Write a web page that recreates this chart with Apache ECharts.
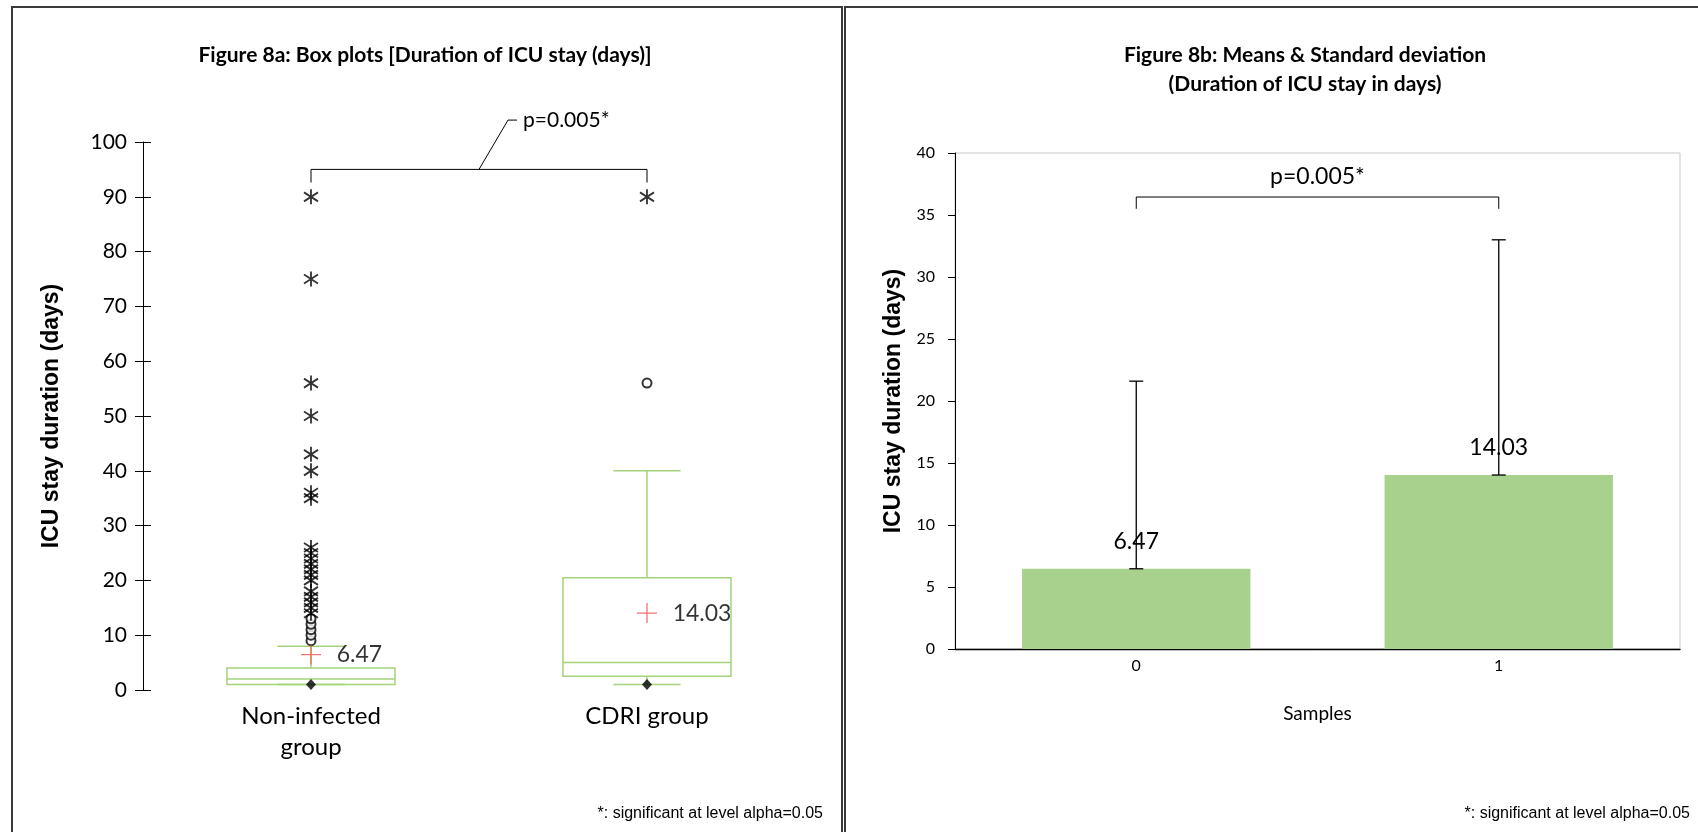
<!DOCTYPE html>
<html><head><meta charset="utf-8">
<script src="https://cdn.jsdelivr.net/npm/echarts@6/dist/echarts.min.js"></script>
<style>html,body{margin:0;padding:0;background:#fff}#c{width:1698px;height:832px}</style>
</head><body><div id="c"></div>
<script>
// ---------- data ----------
const groups = ['Non-infected\ngroup', 'CDRI group'];
const boxMin = [1, 1];
const boxQ1 = [1, 2.5];
const boxMedian = [2, 5];
const boxQ3 = [4, 20.5];
const boxMax = [8, 40];
const means = [6.47, 14.03];
const sds = [15.13, 18.97];
const mildOutliers = [[0, 9], [0, 10], [0, 11], [0, 12], [0, 13], [1, 56]];
const extremeNonInfected = [14, 15, 16, 17, 18, 20, 21, 22, 23, 24, 25, 26, 35, 36, 40, 43, 50, 56, 75, 90];
const extremeCdri = [90];
const leftBracket = [95, 92.6, 104];   // bracket level, tip end, p label level
const rightBracket = [36.45, 35.5, 38.1];
const pLabel = 'p=0.005*';
const sampleCategories = ['0', '1'];
const footnote = '*: significant at level alpha=0.05';

// ---------- styling ----------
const CAL = 'Lato, "Open Sans", sans-serif';
const ARI = '"Liberation Sans", Arial, sans-serif';
const GREEN_LINE = '#a3d47c';
const chart = echarts.init(document.getElementById('c'), null, {renderer: 'canvas'});

const boxData = groups.map((g, i) => [i, boxMin[i], boxQ1[i], boxMedian[i], boxQ3[i], boxMax[i]]);
const extremeData = extremeNonInfected.map(v => [0, v]).concat(extremeCdri.map(v => [1, v]));
const minData = boxMin.map((v, i) => [i, v]);
const meanData = means.map((v, i) => [i, v]);
const errData = means.map((v, i) => [i, v, sds[i]]);

const star = 'path://M0,-1L0,1M-0.8,-0.6L0.8,0.6M-0.8,0.6L0.8,-0.6';
const plus = 'path://M0,-1L0,1M-1,0L1,0';

function renderBox(params, api) {
  const i = api.value(0);
  const cx = api.coord([i, 0])[0];
  const band = api.size([1, 0])[0];
  const bw = band * 0.5, cw = bw * 0.4;
  const y = k => api.coord([i, api.value(k)])[1];
  const yMin = y(1), yQ1 = y(2), yMed = y(3), yQ3 = y(4), yMax = y(5);
  const st = {stroke: GREEN_LINE, fill: null, lineWidth: 1.5};
  const L = (x1, y1, x2, y2) => ({type: 'line', shape: {x1, y1, x2, y2}, style: st});
  return {type: 'group', children: [
    {type: 'rect', shape: {x: cx - bw / 2, y: yQ3, width: bw, height: yQ1 - yQ3}, style: st},
    L(cx - bw / 2, yMed, cx + bw / 2, yMed),
    L(cx, yQ3, cx, yMax),
    L(cx, yQ1, cx, yMin),
    L(cx - cw / 2, yMax, cx + cw / 2, yMax),
    L(cx - cw / 2, yMin, cx + cw / 2, yMin)
  ]};
}

function makeBracket(levels, leader, fs) {
  return function (params, api) {
    const a = api.coord([0, levels[0]]), b = api.coord([1, levels[0]]);
    const tip = api.coord([0, levels[1]])[1];
    const lab = api.coord([0, levels[2]])[1];
    const st = {stroke: '#000', fill: null, lineWidth: 1};
    const ch = [
      {type: 'polyline', shape: {points: [[a[0], tip], [a[0], a[1]], [b[0], b[1]], [b[0], tip]]}, style: st}
    ];
    const mid = (a[0] + b[0]) / 2;
    if (leader) {
      ch.push({type: 'polyline', shape: {points: [[mid, a[1]], [mid + 29, lab], [mid + 38, lab]]}, style: st});
      ch.push({type: 'text', x: mid + 44, y: lab, style: {text: pLabel, fill: '#000', font: fs + 'px ' + CAL, textAlign: 'left', textVerticalAlign: 'middle'}});
    } else {
      ch.push({type: 'text', x: mid, y: lab, style: {text: pLabel, fill: '#000', font: fs + 'px ' + CAL, textAlign: 'center', textVerticalAlign: 'middle'}});
    }
    return {type: 'group', children: ch};
  };
}

function renderErr(params, api) {
  const i = api.value(0);
  const p0 = api.coord([i, api.value(1)]);
  const p1 = api.coord([i, api.value(1) + api.value(2)]);
  const st = {stroke: '#000', lineWidth: 1.3};
  const c = 7;
  return {type: 'group', children: [
    {type: 'line', shape: {x1: p0[0], y1: p0[1], x2: p1[0], y2: p1[1]}, style: st},
    {type: 'line', shape: {x1: p0[0] - c, y1: p0[1], x2: p0[0] + c, y2: p0[1]}, style: st},
    {type: 'line', shape: {x1: p1[0] - c, y1: p1[1], x2: p1[0] + c, y2: p1[1]}, style: st}
  ]};
}

const option = {
  backgroundColor: '#fff',
  animation: false,
  title: [
    {text: 'Figure 8a: Box plots [Duration of ICU stay (days)]', left: 420, top: 36, textAlign: 'center',
     textStyle: {fontFamily: CAL, fontWeight: 'bold', fontSize: 21, lineHeight: 29, color: '#000'}},
    {text: 'Figure 8b: Means & Standard deviation\n(Duration of ICU stay in days)', left: 1300, top: 36, textAlign: 'center',
     textStyle: {fontFamily: CAL, fontWeight: 'bold', fontSize: 21, lineHeight: 29, color: '#000'}}
  ],
  graphic: [
    {type: 'rect', shape: {x: 12, y: 7, width: 830, height: 840}, style: {fill: null, stroke: '#3a3a3a', lineWidth: 2}, z: 100},
    {type: 'rect', shape: {x: 845, y: 7, width: 870, height: 840}, style: {fill: null, stroke: '#3a3a3a', lineWidth: 2}, z: 100},
    {type: 'text', right: 1698 - 823, top: 806, style: {text: footnote, font: '16px ' + ARI, fill: '#000'}},
    {type: 'text', right: 8, top: 806, style: {text: footnote, font: '16px ' + ARI, fill: '#000'}}
  ],
  grid: [
    {left: 143, right: 883, top: 142, bottom: 142},
    {left: 955, right: 18, top: 153, bottom: 183, show: true, borderColor: '#c8c8c8', borderWidth: 1}
  ],
  xAxis: [
    {type: 'category', gridIndex: 0, data: groups, axisLine: {show: false}, axisTick: {show: false},
     axisLabel: {fontFamily: CAL, fontSize: 24, lineHeight: 31, color: '#000', margin: 11}},
    {type: 'category', gridIndex: 1, data: sampleCategories, axisLine: {lineStyle: {color: '#000', width: 1.3}},
     axisTick: {length: 7, lineStyle: {color: '#000'}},
     axisLabel: {fontFamily: CAL, fontSize: 16, color: '#000', margin: 9},
     name: 'Samples', nameLocation: 'middle', nameGap: 55,
     nameTextStyle: {fontFamily: CAL, fontSize: 19, color: '#000'}},
    {type: 'category', gridIndex: 1, data: sampleCategories, axisLine: {show: false},
     axisTick: {inside: true, length: 7, lineStyle: {color: '#000'}}, axisLabel: {show: false}}
  ],
  yAxis: [
    {type: 'value', gridIndex: 0, min: 0, max: 100, interval: 10,
     axisLine: {show: true, lineStyle: {color: '#000'}}, axisTick: {show: true, length: 8, lineStyle: {color: '#000'}},
     splitLine: {show: false}, axisLabel: {fontFamily: CAL, fontSize: 21, color: '#000', margin: 16},
     name: 'ICU stay duration (days)', nameLocation: 'middle', nameGap: 80,
     nameTextStyle: {fontFamily: ARI, fontWeight: 'bold', fontSize: 23, color: '#000'}},
    {type: 'value', gridIndex: 0, min: 0, max: 100, interval: 10, position: 'left',
     axisLine: {show: false}, axisTick: {show: true, inside: true, length: 8, lineStyle: {color: '#000'}},
     splitLine: {show: false}, axisLabel: {show: false}},
    {type: 'value', gridIndex: 1, min: 0, max: 40, interval: 5,
     axisLine: {show: true, lineStyle: {color: '#000'}}, axisTick: {show: true, length: 7, lineStyle: {color: '#000'}},
     splitLine: {show: false}, axisLabel: {fontFamily: CAL, fontSize: 16, color: '#000', margin: 20},
     name: 'ICU stay duration (days)', nameLocation: 'middle', nameGap: 50,
     nameTextStyle: {fontFamily: ARI, fontWeight: 'bold', fontSize: 23, color: '#000'}}
  ],
  series: [
    {type: 'custom', xAxisIndex: 0, yAxisIndex: 0, data: boxData, renderItem: renderBox, encode: {x: 0, y: [1, 2, 3, 4, 5]}, z: 2},
    {type: 'scatter', xAxisIndex: 0, yAxisIndex: 0, data: mildOutliers, symbol: 'emptyCircle', symbolSize: 9,
     itemStyle: {color: '#000', borderColor: '#000', borderWidth: 1.2}, z: 3},
    {type: 'scatter', xAxisIndex: 0, yAxisIndex: 0, data: extremeData, symbol: star, symbolSize: [14, 15],
     itemStyle: {color: 'rgba(0,0,0,0)', borderColor: '#000', borderWidth: 1.9}, z: 3},
    {type: 'scatter', xAxisIndex: 0, yAxisIndex: 0, data: minData, symbol: 'diamond', symbolSize: [10, 11],
     itemStyle: {color: '#000'}, z: 4},
    {type: 'scatter', xAxisIndex: 0, yAxisIndex: 0, data: meanData, symbol: plus, symbolSize: 20,
     itemStyle: {color: 'rgba(0,0,0,0)', borderColor: '#f2504e', borderWidth: 1.3}, z: 4,
     label: {show: true, position: 'right', distance: 15, formatter: p => p.value[1].toFixed(2),
             fontFamily: CAL, fontSize: 23, color: '#000'}},
    {type: 'custom', xAxisIndex: 0, yAxisIndex: 0, data: [[0, 1]], renderItem: makeBracket(leftBracket, true, 21), clip: false, z: 5},
    {type: 'bar', xAxisIndex: 1, yAxisIndex: 2, data: means, barWidth: '63%', itemStyle: {color: '#a9d18e'},
     label: {show: true, position: 'top', distance: 16, formatter: p => p.value.toFixed(2), fontFamily: CAL, fontSize: 23, color: '#000'}},
    {type: 'custom', xAxisIndex: 1, yAxisIndex: 2, data: errData, renderItem: renderErr, encode: {x: 0, y: 1}, z: 5},
    {type: 'custom', xAxisIndex: 1, yAxisIndex: 2, data: [[0, 1]], renderItem: makeBracket(rightBracket, false, 23), clip: false, z: 5}
  ]
};
chart.setOption(option);
</script></body></html>
